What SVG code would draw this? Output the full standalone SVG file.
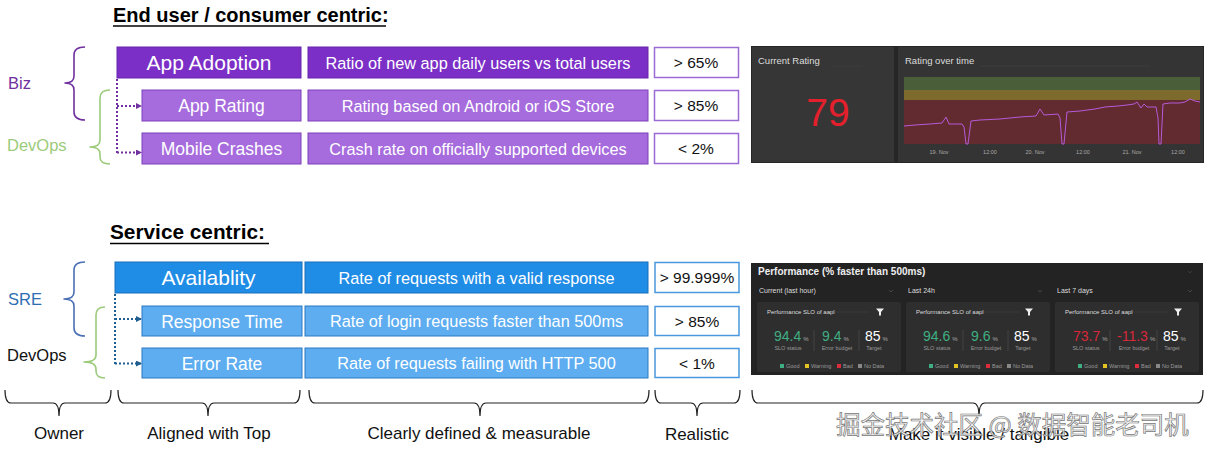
<svg xmlns="http://www.w3.org/2000/svg" width="1210" height="455" viewBox="0 0 1210 455">
<style>
text{font-family:"Liberation Sans",Arial,sans-serif}
.ttl{font-size:20px;font-weight:bold;fill:#000}
.nm1{font-size:21px;fill:#fff;text-anchor:middle}
.nm2{font-size:17.5px;fill:#fff;text-anchor:middle}
.dsc{font-size:16.3px;fill:#fff;text-anchor:middle}
.val{font-size:15.5px;fill:#111;text-anchor:middle}
.own{font-size:16.5px}
.bl{font-size:17px;fill:#111;text-anchor:middle}
.pd{fill:#7b2fc6;stroke:#6824ad;stroke-width:1}
.pl{fill:#a66bdc;stroke:#7e40bd;stroke-width:1}
.pv{fill:#fff;stroke:#9a6ad5;stroke-width:1.5}
.bd{fill:#1f8ce6;stroke:#1a6fb8;stroke-width:1}
.bli{fill:#5dadf0;stroke:#2a79c2;stroke-width:1}
.bv{fill:#fff;stroke:#4a98dd;stroke-width:1.5}
.brace{fill:none;stroke-width:1.6;stroke-linejoin:round}
.dotp{fill:none;stroke:#7030a0;stroke-width:2;stroke-dasharray:2 2}
.dotb{fill:none;stroke:#1f5f8f;stroke-width:2;stroke-dasharray:2 2}
.sm{fill:#ddd}
.ax{font-size:5.5px;fill:#aaa;text-anchor:middle}
.ct{font-size:6px;fill:#ddd}
.lb{font-size:5.5px;fill:#999;text-anchor:middle}
.lg{font-size:5.5px;fill:#999}
.big{font-size:14px}
.pc{font-size:6px;fill:#aaa}
</style>
<defs>
<marker id="ap" markerWidth="6" markerHeight="6" refX="5" refY="3" orient="auto" markerUnits="userSpaceOnUse"><path d="M0,0 L6,3 L0,6 Z" fill="#7030a0"/></marker>
<marker id="ab" markerWidth="6" markerHeight="6" refX="5" refY="3" orient="auto" markerUnits="userSpaceOnUse"><path d="M0,0 L6,3 L0,6 Z" fill="#1f5f8f"/></marker>
</defs>
<rect width="1210" height="455" fill="#fff"/>

<!-- Titles -->
<g id="title-top">
<text class="ttl" x="113" y="22">End user / consumer centric:</text>
<line x1="113" y1="26" x2="386" y2="26" stroke="#000" stroke-width="1.5"/>
</g>
<g id="title-service">
<text class="ttl" x="110" y="239" style="font-size:20.8px">Service centric:</text>
<line x1="110" y1="243.5" x2="269" y2="243.5" stroke="#000" stroke-width="1.5"/>
</g>

<!-- Owner labels and braces -->
<g id="owner-biz">
<path class="brace" stroke="#7030a0" d="M85,47 Q74,47 74,55 L74,76 Q74,83 65,83 Q74,83 74,90 L74,112 Q74,120 85,120"/>
<text class="own" x="8" y="89" fill="#7030a0">Biz</text>
</g>
<g id="owner-devops-top">
<path class="brace" stroke="#9ccb7c" d="M110,90 Q100,90 100,98 L100,140 Q100,147 90,147 Q100,147 100,154 L100,157 Q100,164 110,164"/>
<text class="own" x="7" y="151" fill="#9ccb7c">DevOps</text>
</g>
<g id="owner-sre">
<path class="brace" stroke="#4a6fb5" d="M85,262 Q74,262 74,270 L74,292 Q74,299 64,299 Q74,299 74,306 L74,328 Q74,336 85,336"/>
<text class="own" x="8" y="305" fill="#2e6db4">SRE</text>
</g>
<g id="owner-devops-service">
<path class="brace" stroke="#9ccb7c" d="M105,307 Q96,307 96,315 L96,355 Q96,362 84,362 Q96,362 96,369 L96,371 Q96,378 105,378"/>
<text class="own" x="7" y="361" fill="#111">DevOps</text>
</g>

<!-- Purple rows -->
<g id="app-adoption">
<rect class="pd" x="117" y="47" width="184" height="31"/>
<text class="nm1" x="209" y="70">App Adoption</text>
<rect class="pd" x="308" y="47" width="340" height="31"/>
<text class="dsc" x="478" y="69">Ratio of new app daily users vs total users</text>
<rect class="pv" x="654.5" y="47.5" width="84" height="30"/>
<text class="val" x="696" y="68">&gt; 65%</text>
</g>
<g id="app-rating">
<rect class="pl" x="142" y="90" width="159" height="31"/>
<text class="nm2" x="221.5" y="112">App Rating</text>
<rect class="pl" x="308" y="90" width="340" height="31"/>
<text class="dsc" x="478" y="112">Rating based on Android or iOS Store</text>
<rect class="pv" x="654.5" y="90.5" width="84" height="30"/>
<text class="val" x="696" y="111">&gt; 85%</text>
</g>
<g id="mobile-crashes">
<rect class="pl" x="142" y="133" width="159" height="31"/>
<text class="nm2" x="221.5" y="155">Mobile Crashes</text>
<rect class="pl" x="308" y="133" width="340" height="31"/>
<text class="dsc" x="478" y="155">Crash rate on officially supported devices</text>
<rect class="pv" x="654.5" y="133.5" width="84" height="30"/>
<text class="val" x="696" y="154">&lt; 2%</text>
</g>

<!-- Blue rows -->
<g id="availability">
<rect class="bd" x="115" y="262" width="187" height="31"/>
<text class="nm1" x="208.5" y="285">Availablity</text>
<rect class="bd" x="305" y="262" width="343" height="31"/>
<text class="dsc" x="476.5" y="284">Rate of requests with a valid response</text>
<rect class="bv" x="655" y="262.5" width="84" height="30"/>
<text class="val" x="697" y="283">&gt; 99.999%</text>
</g>
<g id="response-time">
<rect class="bli" x="142" y="306" width="160" height="30"/>
<text class="nm2" x="222" y="327.5">Response Time</text>
<rect class="bli" x="305" y="306" width="343" height="30"/>
<text class="dsc" x="476.5" y="327">Rate of login requests faster than 500ms</text>
<rect class="bv" x="655" y="306.5" width="84" height="29"/>
<text class="val" x="697" y="327">&gt; 85%</text>
</g>
<g id="error-rate">
<rect class="bli" x="142" y="348" width="160" height="30"/>
<text class="nm2" x="222" y="369.5">Error Rate</text>
<rect class="bli" x="305" y="348" width="343" height="30"/>
<text class="dsc" x="476.5" y="369">Rate of requests failing with HTTP 500</text>
<rect class="bv" x="655" y="348.5" width="84" height="29"/>
<text class="val" x="697" y="369">&lt; 1%</text>
</g>

<!-- Connectors -->
<g id="connectors">
<path class="dotp" d="M117,79 L117,153"/>
<path class="dotp" d="M117,106 L141,106" marker-end="url(#ap)"/>
<path class="dotp" d="M117,152.5 L141,152.5" marker-end="url(#ap)"/>
<path class="dotb" d="M115,294 L115,364"/>
<path class="dotb" d="M115,319 L141,319" marker-end="url(#ab)"/>
<path class="dotb" d="M115,363.5 L141,363.5" marker-end="url(#ab)"/>
</g>

<!-- Top dashboard -->
<g id="dashboard-rating">
<rect x="751" y="46" width="453" height="117" fill="#262626"/>
<rect x="752" y="47" width="142" height="115" fill="#363636"/>
<rect x="898" y="47" width="305" height="115" fill="#343434"/>
<text class="sm" x="758" y="64" style="font-size:9.5px">Current Rating</text>
<line x1="832" y1="66" x2="862" y2="66" stroke="#444" stroke-width="0.6"/>
<text x="828" y="126" text-anchor="middle" style="font-size:39px" fill="#e3202c">79</text>
<text class="sm" x="905" y="64" style="font-size:9.5px">Rating over time</text>
<line x1="980" y1="66" x2="1150" y2="66" stroke="#444" stroke-width="0.6"/>
<rect x="904" y="77" width="296" height="13" fill="#4b5e3a"/>
<rect x="904" y="90" width="296" height="10" fill="#7c6b2c"/>
<rect x="904" y="100" width="296" height="44" fill="#612b2f"/>
<polyline fill="none" stroke="#b65bd8" stroke-width="1" points="904,126 915,125 930,124 942,123 946,117 949,124 962,124 964,127 966,144 968,144 971,121 980,120 1000,119 1020,117 1036,116 1040,109 1044,115 1058,114 1060,118 1062,144 1064,144 1067,112 1080,111 1095,109 1105,107 1118,106 1127,105 1134,104 1137,102 1141,108 1144,104 1147,107 1156,107 1158,118 1159,144 1161,144 1163,104 1170,103 1180,103 1185,102 1190,99 1195,101 1200,102"/>
<text class="ax" x="939" y="154">19. Nov</text>
<text class="ax" x="990" y="154">12:00</text>
<text class="ax" x="1035" y="154">20. Nov</text>
<text class="ax" x="1083" y="154">12:00</text>
<text class="ax" x="1132" y="154">21. Nov</text>
<text class="ax" x="1178" y="154">12:00</text>
</g>

<!-- Bottom dashboard -->
<g id="dashboard-performance">
<rect x="751" y="263" width="452" height="112" fill="#232323"/>
<text x="758" y="275" fill="#eee" style="font-size:10px;font-weight:bold">Performance (% faster than 500ms)</text>
<path d="M1188,271 l2,2 l2,-2" fill="none" stroke="#444" stroke-width="0.7"/>
<text class="sm" x="759" y="293" style="font-size:7px">Current (last hour)</text>
<text class="sm" x="908" y="293" style="font-size:7px">Last 24h</text>
<text class="sm" x="1057" y="293" style="font-size:7px">Last 7 days</text>
<path d="M889,290 l2,2 l2,-2 M1038,290 l2,2 l2,-2 M1188,290 l2,2 l2,-2" fill="none" stroke="#555" stroke-width="0.7"/>
<g id="card-hour">
<rect x="757" y="302" width="144" height="70" rx="2" fill="#2e2e2e"/>
<text class="ct" x="767" y="314">Performance SLO of aapl</text>
<line x1="835" y1="312" x2="870" y2="312" stroke="#444" stroke-width="0.5"/>
<path d="M876,308.5 h8 l-3,3.5 v3.5 h-2 v-3.5 Z" fill="#eee"/>
<text x="774" y="341" class="big" fill="#3fae82">94.4<tspan class="pc" dx="2">%</tspan></text>
<text class="lb" x="788" y="350">SLO status</text>
<line x1="814" y1="330" x2="814" y2="351" stroke="#4a4a4a" stroke-width="0.7"/>
<text x="822" y="341" class="big" fill="#3fae82">9.4<tspan class="pc" dx="2">%</tspan></text>
<text class="lb" x="837" y="350">Error budget</text>
<line x1="859" y1="330" x2="859" y2="351" stroke="#4a4a4a" stroke-width="0.7"/>
<text x="865" y="341" class="big" fill="#fff">85<tspan class="pc" dx="2">%</tspan></text>
<text class="lb" x="874" y="350">Target</text>
<rect x="780" y="364" width="4" height="4" fill="#3fae82"/><text class="lg" x="786" y="368">Good</text>
<rect x="805" y="364" width="4" height="4" fill="#e2c322"/><text class="lg" x="811" y="368">Warning</text>
<rect x="837" y="364" width="4" height="4" fill="#dc2b3a"/><text class="lg" x="843" y="368">Bad</text>
<rect x="858" y="364" width="4" height="4" fill="#888"/><text class="lg" x="864" y="368">No Data</text>
</g>
<g id="card-24h">
<rect x="906" y="302" width="144" height="70" rx="2" fill="#2e2e2e"/>
<text class="ct" x="916" y="314">Performance SLO of aapl</text>
<line x1="984" y1="312" x2="1019" y2="312" stroke="#444" stroke-width="0.5"/>
<path d="M1025,308.5 h8 l-3,3.5 v3.5 h-2 v-3.5 Z" fill="#eee"/>
<text x="923" y="341" class="big" fill="#3fae82">94.6<tspan class="pc" dx="2">%</tspan></text>
<text class="lb" x="937" y="350">SLO status</text>
<line x1="963" y1="330" x2="963" y2="351" stroke="#4a4a4a" stroke-width="0.7"/>
<text x="971" y="341" class="big" fill="#3fae82">9.6<tspan class="pc" dx="2">%</tspan></text>
<text class="lb" x="986" y="350">Error budget</text>
<line x1="1008" y1="330" x2="1008" y2="351" stroke="#4a4a4a" stroke-width="0.7"/>
<text x="1014" y="341" class="big" fill="#fff">85<tspan class="pc" dx="2">%</tspan></text>
<text class="lb" x="1023" y="350">Target</text>
<rect x="929" y="364" width="4" height="4" fill="#3fae82"/><text class="lg" x="935" y="368">Good</text>
<rect x="954" y="364" width="4" height="4" fill="#e2c322"/><text class="lg" x="960" y="368">Warning</text>
<rect x="986" y="364" width="4" height="4" fill="#dc2b3a"/><text class="lg" x="992" y="368">Bad</text>
<rect x="1007" y="364" width="4" height="4" fill="#888"/><text class="lg" x="1013" y="368">No Data</text>
</g>
<g id="card-7days">
<rect x="1055" y="302" width="144" height="70" rx="2" fill="#2e2e2e"/>
<text class="ct" x="1065" y="314">Performance SLO of aapl</text>
<line x1="1133" y1="312" x2="1168" y2="312" stroke="#444" stroke-width="0.5"/>
<path d="M1174,308.5 h8 l-3,3.5 v3.5 h-2 v-3.5 Z" fill="#eee"/>
<text x="1073" y="341" class="big" fill="#d8283a">73.7<tspan class="pc" dx="2">%</tspan></text>
<text class="lb" x="1086" y="350">SLO status</text>
<line x1="1110" y1="330" x2="1110" y2="351" stroke="#4a4a4a" stroke-width="0.7"/>
<text x="1117" y="341" class="big" fill="#d8283a">-11.3<tspan class="pc" dx="2">%</tspan></text>
<text class="lb" x="1134" y="350">Error budget</text>
<line x1="1157" y1="330" x2="1157" y2="351" stroke="#4a4a4a" stroke-width="0.7"/>
<text x="1163" y="341" class="big" fill="#fff">85<tspan class="pc" dx="2">%</tspan></text>
<text class="lb" x="1172" y="350">Target</text>
<rect x="1078" y="364" width="4" height="4" fill="#3fae82"/><text class="lg" x="1084" y="368">Good</text>
<rect x="1103" y="364" width="4" height="4" fill="#e2c322"/><text class="lg" x="1109" y="368">Warning</text>
<rect x="1135" y="364" width="4" height="4" fill="#dc2b3a"/><text class="lg" x="1141" y="368">Bad</text>
<rect x="1156" y="364" width="4" height="4" fill="#888"/><text class="lg" x="1162" y="368">No Data</text>
</g>
</g>

<!-- Bottom braces -->
<g id="bottom-braces" fill="none" stroke="#222" stroke-width="1.2">
<path d="M5,390 Q5,403 11,403 L53,403 Q59,403 59,416 Q59,403 65,403 L105,403 Q111,403 111,390"/>
<path d="M118,390 Q118,403 124,403 L202,403 Q208,403 208,416 Q208,403 214,403 L294,403 Q300,403 300,390"/>
<path d="M309,390 Q309,403 315,403 L474,403 Q480,403 480,416 Q480,403 486,403 L643,403 Q649,403 649,390"/>
<path d="M655,390 Q655,403 661,403 L691,403 Q697,403 697,416 Q697,403 703,403 L734,403 Q740,403 740,390"/>
<path d="M752,390 Q752,403 758,403 L973,403 Q979,403 979,416 Q979,403 985,403 L1197,403 Q1203,403 1203,390"/>
</g>
<g id="bottom-labels">
<text class="bl" x="59" y="439">Owner</text>
<text class="bl" x="209" y="439">Aligned with Top</text>
<text class="bl" x="479" y="439">Clearly defined &amp; measurable</text>
<text class="bl" x="697" y="440">Realistic</text>
<text class="bl" x="979" y="440">Make it visible / tangible</text>
</g>
<g id="watermark">
<text x="836" y="434" style="font-family:'Noto Sans CJK SC','Liberation Sans',sans-serif;font-size:24.5px" fill="#f2f2f2" fill-opacity="0.85" stroke="#777" stroke-width="0.7">掘金技术社区 @ 数据智能老司机</text>
</g>
</svg>
